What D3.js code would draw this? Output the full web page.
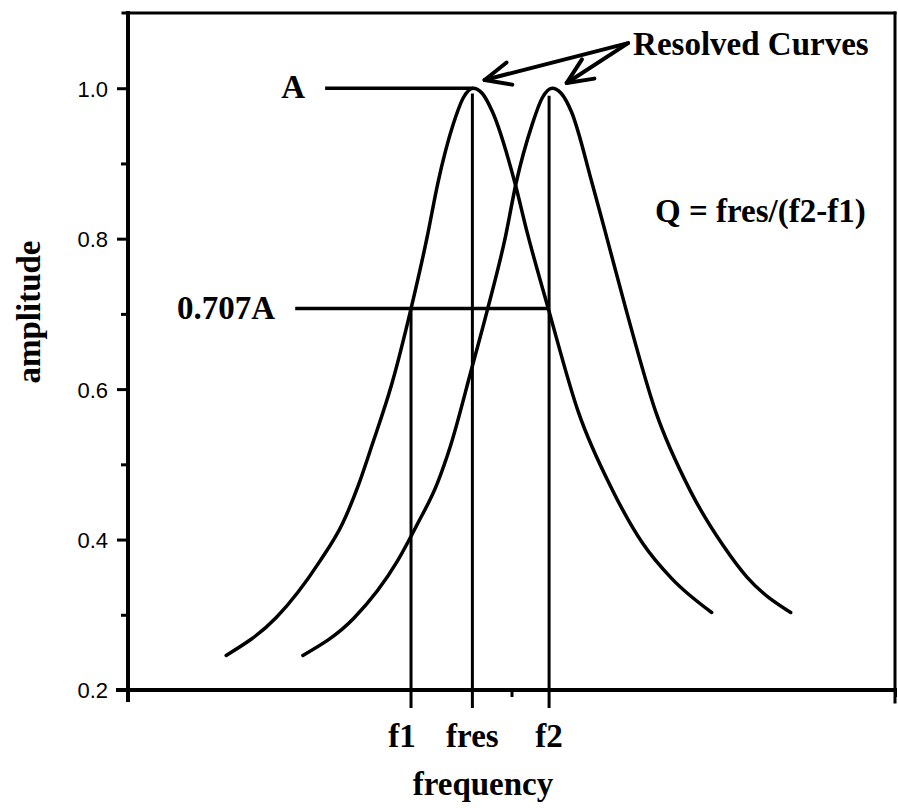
<!DOCTYPE html>
<html lang="en">
<head>
<meta charset="UTF-8">
<title>Resolved Curves</title>
<script src="https://d3js.org/d3.v7.min.js"></script>
<style>
  body { margin: 0; background: #fff; }
  .lbl { font-family: "Liberation Serif", serif; font-weight: bold; font-size: 33px; fill: #000; }
  .y.axis text { font-family: "Liberation Sans", sans-serif; font-size: 22px; fill: #000; }
  .axis .domain { display: none; }
</style>
</head>
<body>
<svg class="graph" width="898" height="812"></svg>
<script>
  // axis ticks
  const yTicks = [0.2, 0.4, 0.6, 0.8, 1.0];
  const yMinorTicks = [0.3, 0.5, 0.7, 0.9];
  const xTicks = [0, 50, 100];

  // curves (frequency in arbitrary units 0-100)
  const curve1Freq = [12.8, 19.3, 25.0, 28.0, 30.1, 31.8, 34.4, 36.9, 39.0, 40.4, 42.4, 43.7, 45.0, 46.2, 47.5, 50.5, 52.0, 54.8, 58.7, 63.2, 67.1, 70.9, 76.1];
  const curve1Amp = [0.246, 0.296, 0.371, 0.422, 0.474, 0.525, 0.607, 0.707, 0.802, 0.874, 0.952, 0.987, 1.0, 0.993, 0.969, 0.872, 0.81, 0.707, 0.570, 0.465, 0.395, 0.348, 0.303];
  const curve2Freq = [22.8, 29.5, 35.1, 37.7, 40.3, 42.0, 44.8, 46.9, 49.2, 50.6, 52.7, 54.0, 55.3, 56.5, 57.8, 60.5, 62.2, 64.9, 68.8, 73.3, 77.6, 80.7, 86.4];
  const curve2Amp = [0.246, 0.296, 0.371, 0.420, 0.474, 0.523, 0.627, 0.707, 0.802, 0.874, 0.952, 0.987, 1.0, 0.993, 0.969, 0.874, 0.81, 0.707, 0.570, 0.465, 0.392, 0.350, 0.303];

  // vertical markers
  const markerNames = ['f1', 'fres', 'f2'];
  const markerFreqs = [36.9, 44.9, 54.9];
  const markerTops = [0.707, 0.993, 0.99];
  const markerBase = 0.176;

  // horizontal guides: label, level, start freq, end freq
  const guideNames = ['A', '0.707A'];
  const guideLevels = [1.0, 0.707];
  const guideStarts = [25.7, 21.8];
  const guideEnds = [45.0, 54.9];

  // arrows from the "Resolved Curves" label to the two peaks
  const arrowFrom = [65.2, 1.06];
  const arrowTipFreqs = [46.5, 57.2];
  const arrowTipAmps = [1.011, 1.007];

  const svg = d3.select('svg.graph');
  const x = d3.scaleLinear().domain([0, 100]).range([128, 895]);
  const y = d3.scaleLinear().domain([0.2, 1.1]).range([690, 13]);

  // frame
  const frame = svg.append('g').attr('stroke', '#000').attr('stroke-linecap', 'square');
  frame.append('line').attr('x1', x(0)).attr('x2', x(0)).attr('y1', y(1.1)).attr('y2', y(0.2) + 10).attr('stroke-width', 4);
  frame.append('line').attr('x1', x(0) - 10).attr('x2', x(100)).attr('y1', y(0.2)).attr('y2', y(0.2)).attr('stroke-width', 4);
  frame.append('line').attr('x1', x(0) - 5).attr('x2', x(100)).attr('y1', y(1.1)).attr('y2', y(1.1)).attr('stroke-width', 3);
  frame.append('line').attr('x1', x(100)).attr('x2', x(100)).attr('y1', y(1.1)).attr('y2', y(0.2) + 12).attr('stroke-width', 3);

  // y axis
  const leftAxis = d3.axisLeft(y).tickValues(yTicks).tickSize(11).tickPadding(9).tickFormat(d3.format('.1f'));
  const ya = svg.append('g').attr('class', 'y axis').attr('transform', `translate(${x(0)},0)`).call(leftAxis);
  ya.selectAll('line').attr('stroke-width', 3);
  ya.selectAll('text').attr('dy', '0.36em');
  const minorAxis = d3.axisLeft(y).tickValues(yMinorTicks).tickSize(7).tickFormat('');
  svg.append('g').attr('class', 'axis').attr('transform', `translate(${x(0)},0)`).call(minorAxis)
    .selectAll('line').attr('stroke-width', 3);

  // x axis (unlabelled small ticks)
  const bottomAxis = d3.axisBottom(x).tickValues(xTicks).tickSize(7).tickFormat('');
  svg.append('g').attr('class', 'axis').attr('transform', `translate(0,${y(0.2)})`).call(bottomAxis)
    .selectAll('line').attr('stroke-width', 3);

  // curves
  const line = d3.line().x(d => x(d[0])).y(d => y(d[1])).curve(d3.curveMonotoneX);
  [[curve1Freq, curve1Amp], [curve2Freq, curve2Amp]].forEach(c => {
    svg.append('path')
      .datum(d3.zip(c[0], c[1]))
      .attr('d', line)
      .attr('fill', 'none')
      .attr('stroke', '#000')
      .attr('stroke-width', 3.5)
      .attr('stroke-linecap', 'round');
  });

  // vertical markers and their labels
  markerNames.forEach((name, i) => {
    svg.append('line')
      .attr('x1', x(markerFreqs[i])).attr('x2', x(markerFreqs[i]))
      .attr('y1', y(markerBase)).attr('y2', y(markerTops[i]))
      .attr('stroke', '#000').attr('stroke-width', 3);
    svg.append('text')
      .attr('class', 'lbl')
      .attr('x', x(markerFreqs[i]) + (i == 0 ? -9 : 0))
      .attr('y', 747)
      .attr('text-anchor', 'middle')
      .text(name);
  });

  // horizontal guides
  guideNames.forEach((name, i) => {
    svg.append('line')
      .attr('x1', x(guideStarts[i])).attr('x2', x(guideEnds[i]))
      .attr('y1', y(guideLevels[i])).attr('y2', y(guideLevels[i]))
      .attr('stroke', '#000').attr('stroke-width', 3.5);
    svg.append('text')
      .attr('class', 'lbl')
      .attr('x', x(guideStarts[i]) - 20)
      .attr('y', y(guideLevels[i]) + 10)
      .attr('text-anchor', 'end')
      .text(name);
  });

  // arrows
  const ax0 = x(arrowFrom[0]), ay0 = y(arrowFrom[1]);
  arrowTipFreqs.forEach((f, i) => {
    const tx = x(f), ty = y(arrowTipAmps[i]);
    const ang = Math.atan2(ay0 - ty, ax0 - tx);
    const g = svg.append('g').attr('stroke', '#000').attr('stroke-width', 4).attr('stroke-linecap', 'round').attr('fill', 'none');
    g.append('line').attr('x1', ax0).attr('y1', ay0).attr('x2', tx).attr('y2', ty);
    [-0.42, 0.42].forEach(da => {
      g.append('line')
        .attr('x1', tx).attr('y1', ty)
        .attr('x2', tx + 28 * Math.cos(ang + da))
        .attr('y2', ty + 28 * Math.sin(ang + da));
    });
  });

  // texts
  svg.append('text').attr('class', 'lbl').attr('x', ax0 + 5).attr('y', 55).text('Resolved Curves');
  svg.append('text').attr('class', 'lbl').attr('x', 655).attr('y', 222).text('Q = fres/(f2-f1)');
  svg.append('text').attr('class', 'lbl').attr('x', 483).attr('y', 795).attr('text-anchor', 'middle').text('frequency');
  svg.append('text').attr('class', 'lbl')
    .attr('transform', 'translate(40,312) rotate(-90)')
    .attr('text-anchor', 'middle')
    .text('amplitude');
</script>
</body>
</html>
